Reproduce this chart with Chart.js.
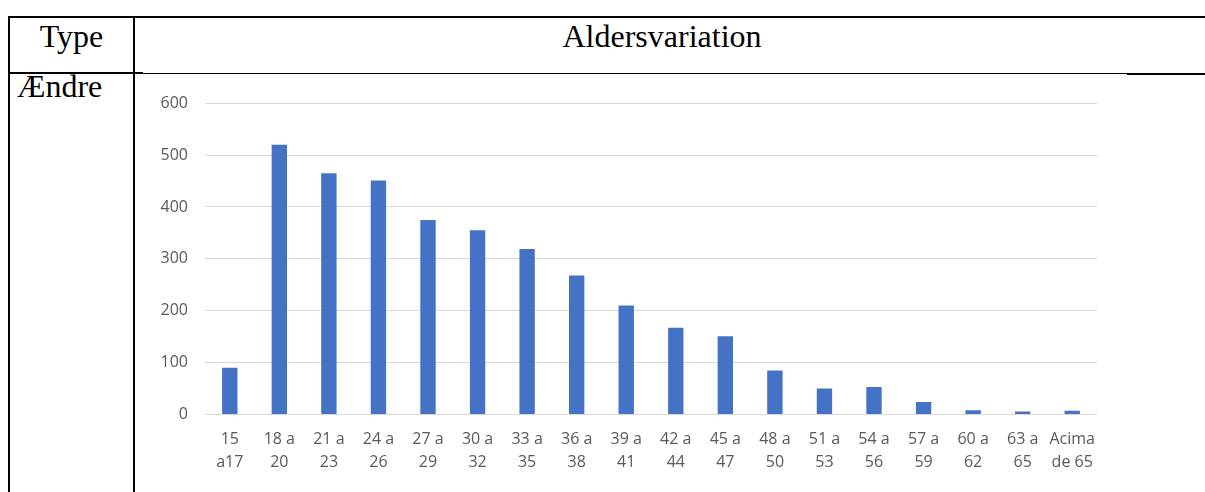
<!DOCTYPE html>
<html>
<head>
<meta charset="utf-8">
<script src="https://cdn.jsdelivr.net/npm/chart.js@4"></script>
<style>
  body { margin: 0; background: #fff; width: 1205px; height: 492px; overflow: hidden; position: relative; }
  .ln { position: absolute; background: #000; }
  .cell { position: absolute; font-family: "Liberation Serif", "Times New Roman", serif; font-size: 32px; line-height: 32px; color: #000; white-space: nowrap; }
  #wrap { position: absolute; left: 140px; top: 75px; width: 1000px; height: 417px; }
</style>
</head>
<body>
<!-- table borders -->
<div class="ln" style="left:8px;top:16px;width:1197px;height:2px"></div>
<div class="ln" style="left:8px;top:16px;width:2px;height:476px"></div>
<div class="ln" style="left:133px;top:16px;width:2px;height:476px"></div>
<div class="ln" style="left:8px;top:72px;width:135px;height:2px"></div>
<div class="ln" style="left:143px;top:73px;width:984px;height:1px"></div>
<div class="ln" style="left:1127px;top:73px;width:78px;height:2px"></div>

<div class="cell" style="left:10px;width:123px;top:20px;text-align:center">Type</div>
<div class="cell" style="left:462px;width:400px;top:20px;text-align:center">Aldersvariation</div>
<div class="cell" style="left:17px;top:70px">Ændre</div>

<div id="wrap"><canvas id="barChart"></canvas></div>

<script>
const ageGroups = [
    ['15', 'a17'], ['18 a', '20'], ['21 a', '23'], ['24 a', '26'], ['27 a', '29'], ['30 a', '32'],
    ['33 a', '35'], ['36 a', '38'], ['39 a', '41'], ['42 a', '44'], ['45 a', '47'], ['48 a', '50'],
    ['51 a', '53'], ['54 a', '56'], ['57 a', '59'], ['60 a', '62'], ['63 a', '65'], ['Acima', 'de 65']
];
const counts = [90, 520, 465, 451, 375, 355, 319, 268, 210, 167, 151, 85, 50, 53, 24, 8, 6, 7];
const yMin = 0;
const yMax = 600;
const yStep = 100;

document.addEventListener('DOMContentLoaded', ()=>{
    const ctx = document.getElementById('barChart');
    const tickFont = { family: '"Open Sans", sans-serif', size: 16, lineHeight: 1.4 };

    const data = {
        labels: ageGroups,
        datasets: [{
          label: 'Aldersvariation',
          data: counts,
          backgroundColor: '#4472C4',
          borderWidth: 0,
          barPercentage: 0.31,
          categoryPercentage: 1
        }]
    };
    const config = {
        type: 'bar',
        data: data,
        options: {
            responsive: true,
            maintainAspectRatio: false,
            animation: false,
            layout: { padding: { top: 18, right: 43, left: 0, bottom: 0 } },
            plugins: { legend: { display: false }, tooltip: { enabled: false } },
            scales: {
                x: {
                    grid: { display: false, drawTicks: false },
                    border: { display: false },
                    ticks: { color: '#595959', font: tickFont, padding: 14, maxRotation: 0, autoSkip: false },
                    afterFit: s => { s.height = 77.5; }
                },
                y: {
                    min: yMin, max: yMax,
                    grid: { color: '#d9d9d9', lineWidth: 1, drawTicks: false },
                    border: { display: false },
                    ticks: { stepSize: yStep, color: '#595959', font: tickFont, padding: 17 },
                    afterFit: s => { s.width = 65; }
                }
            }
        }
    };
    new Chart(ctx, config);
})
</script>
</body>
</html>
